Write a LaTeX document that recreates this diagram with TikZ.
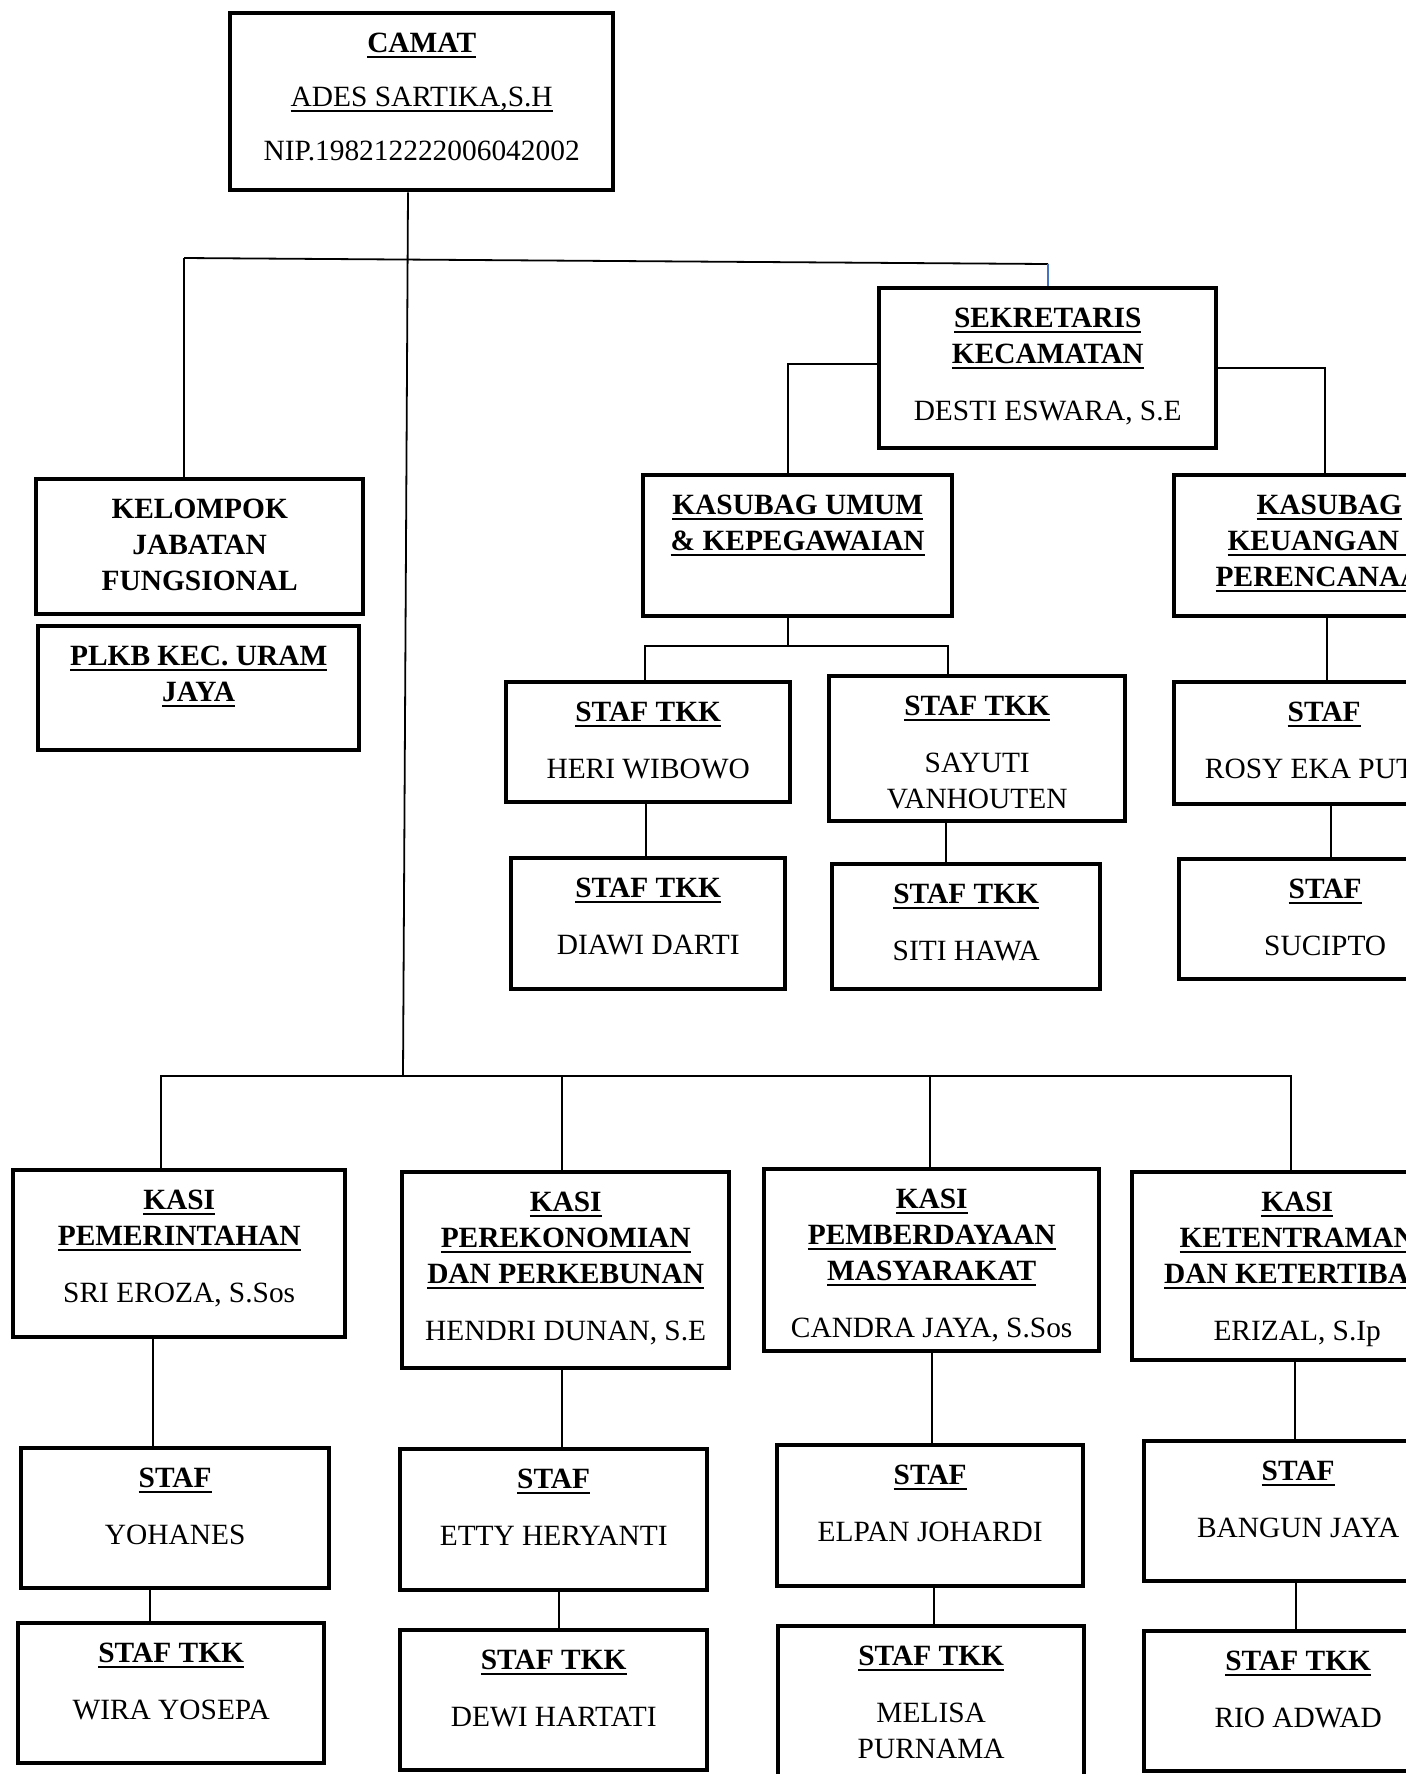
\documentclass[tikz,border=0pt]{standalone}
\usepackage{fontspec}
\setmainfont{Liberation Serif}
\usepackage{tikz}

\definecolor{lineblue}{RGB}{68,114,196}
\newdimen\pxu \pxu=0.5pt
\newcommand{\ul}[1]{\leavevmode\vtop{\setbox0\hbox{#1}\dp0=0pt\box0\kern1.5pt\hrule height 1pt}}
\newcommand{\jdl}[1]{\ul{\textbf{#1}}}
\newcommand{\isi}[3]{\parbox[c][#2\pxu][t]{#1\pxu}{\centering\rule{0pt}{19.7pt}#3}}

\begin{document}
\begin{tikzpicture}[x=0.5pt,y=-0.5pt,
    post/.style={draw,line width=2.2pt,inner sep=0pt,anchor=north west,
      font=\fontsize{14.7}{18}\selectfont},
    link/.style={line width=0.9pt}]
  \useasboundingbox (0,0) rectangle (1406,1774);
  \clip (0,0) rectangle (1406,1774);

  %% Camat and the first level
  \node[post] (CAMAT) at (228,11) {\isi{383}{177}{\jdl{CAMAT}\\[9pt]\ul{ADES SARTIKA,S.H}\\[9pt]NIP.198212222006042002}};
  \node[post] (KJF) at (34,477) {\isi{327}{135}{\textbf{KELOMPOK}\\\textbf{JABATAN}\\\textbf{FUNGSIONAL}}};
  \node[post] (PLKB) at (36,624) {\isi{321}{124}{\jdl{PLKB KEC. URAM}\\\jdl{JAYA}}};
  \node[post] (SEKCAM) at (877,286) {\isi{337}{160}{\jdl{SEKRETARIS}\\\jdl{KECAMATAN}\\[10.5pt]DESTI ESWARA, S.E}};

  %% Kasubag and their staf
  \node[post] (UMUM) at (641,473) {\isi{309}{141}{\jdl{KASUBAG UMUM}\\\jdl{\& KEPEGAWAIAN}}};
  \node[post] (KEU) at (1172,473) {\isi{310}{141}{\jdl{KASUBAG}\\\jdl{KEUANGAN \&}\\\jdl{PERENCANAAN}}};
  \node[post] (HERI) at (504,680) {\isi{284}{120}{\jdl{STAF TKK}\\[10.5pt]HERI WIBOWO}};
  \node[post] (SAYUTI) at (827,674) {\isi{296}{145}{\jdl{STAF TKK}\\[10.5pt]SAYUTI\\VANHOUTEN}};
  \node[post] (DIAWI) at (509,856) {\isi{274}{131}{\jdl{STAF TKK}\\[10.5pt]DIAWI DARTI}};
  \node[post] (SITI) at (830,862) {\isi{268}{125}{\jdl{STAF TKK}\\[10.5pt]SITI HAWA}};
  \node[post] (ROSY) at (1172,680) {\isi{300}{122}{\jdl{STAF}\\[10.5pt]ROSY EKA PUTRI}};
  \node[post] (SUCIPTO) at (1177,857) {\isi{292}{120}{\jdl{STAF}\\[10.5pt]SUCIPTO}};

  %% Kasi row
  \node[post] (PEM) at (11,1168) {\isi{332}{167}{\jdl{KASI}\\\jdl{PEMERINTAHAN}\\[10.5pt]SRI EROZA, S.Sos}};
  \node[post] (PEREK) at (400,1170) {\isi{327}{196}{\jdl{KASI}\\\jdl{PEREKONOMIAN}\\\jdl{DAN PERKEBUNAN}\\[10.5pt]HENDRI DUNAN, S.E}};
  \node[post] (PEMB) at (762,1167) {\isi{335}{182}{\jdl{KASI}\\\jdl{PEMBERDAYAAN}\\\jdl{MASYARAKAT}\\[10.5pt]CANDRA JAYA, S.Sos}};
  \node[post] (TRANTIB) at (1130,1170) {\isi{330}{188}{\jdl{KASI}\\\jdl{KETENTRAMAN}\\\jdl{DAN KETERTIBAN}\\[10.5pt]ERIZAL, S.Ip}};

  %% Staf under the kasi
  \node[post] (YOH) at (19,1446) {\isi{308}{140}{\jdl{STAF}\\[10.5pt]YOHANES}};
  \node[post] (WIRA) at (16,1621) {\isi{306}{140}{\jdl{STAF TKK}\\[10.5pt]WIRA YOSEPA}};
  \node[post] (ETTY) at (398,1447) {\isi{307}{141}{\jdl{STAF}\\[10.5pt]ETTY HERYANTI}};
  \node[post] (DEWI) at (398,1628) {\isi{307}{140}{\jdl{STAF TKK}\\[10.5pt]DEWI HARTATI}};
  \node[post] (ELPAN) at (775,1443) {\isi{306}{141}{\jdl{STAF}\\[10.5pt]ELPAN JOHARDI}};
  \node[post] (MELISA) at (776,1624) {\isi{306}{170}{\jdl{STAF TKK}\\[10.5pt]MELISA\\PURNAMA}};
  \node[post] (BANGUN) at (1142,1439) {\isi{308}{140}{\jdl{STAF}\\[10.5pt]BANGUN JAYA}};
  \node[post] (RIO) at (1142,1629) {\isi{308}{140}{\jdl{STAF TKK}\\[10.5pt]RIO ADWAD}};

  %% Lines from the camat
  \coordinate (BARL) at (184,258);
  \coordinate (BARR) at (1048,264);
  \coordinate (BBAR) at (403,1076);
  \draw[link] (CAMAT.south -| 408,0) -- (BBAR);
  \draw[link] (BARL) -- (BARR);
  \draw[link] (BARL) -- (BARL |- KJF.north);
  \draw[link,lineblue] (BARR) -- (BARR |- SEKCAM.north);
  \draw[link] (PEM.north -| 161,0) |- (BBAR) -| (TRANTIB.north -| 1291,0);
  \foreach \b/\x in {PEREK/562,PEMB/930}
    \draw[link] (\x,0 |- BBAR) -- (\b.north -| \x,0);

  %% Lines from the sekretaris
  \coordinate (UJ) at (788,646);
  \draw[link] (SEKCAM.west |- 0,364) -| (UMUM.north -| 788,0);
  \draw[link] (SEKCAM.east |- 0,368) -| (KEU.north -| 1325,0);
  \draw[link] (UMUM.south -| UJ) -- (UJ);
  \draw[link] (HERI.north -| 645,0) |- (UJ) -| (SAYUTI.north -| 948,0);

  %% Lines between a box and the one below it
  \foreach \a/\b/\x in {HERI/DIAWI/646,SAYUTI/SITI/946,KEU/ROSY/1327,ROSY/SUCIPTO/1331,
      PEM/YOH/153,YOH/WIRA/150,PEREK/ETTY/562,ETTY/DEWI/559,
      PEMB/ELPAN/932,ELPAN/MELISA/934,TRANTIB/BANGUN/1295,BANGUN/RIO/1296}
    \draw[link] (\a.south -| \x,0) -- (\b.north -| \x,0);
\end{tikzpicture}
\end{document}
